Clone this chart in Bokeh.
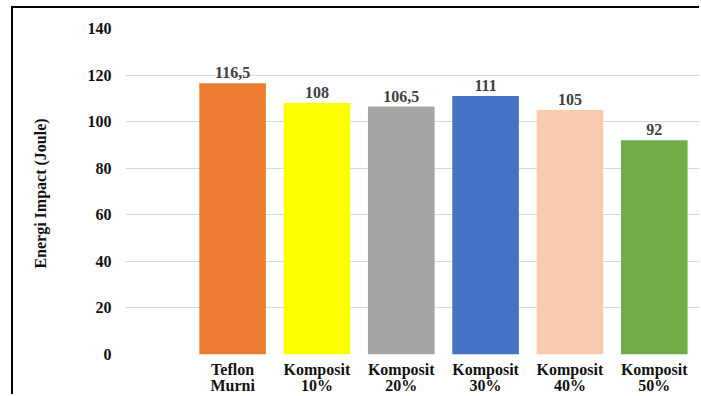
from bokeh.plotting import figure
from bokeh.models import ColumnDataSource, Range1d, FixedTicker, LabelSet
from bokeh.embed import file_html
from bokeh.resources import INLINE

categories = ["Teflon\nMurni", "Komposit\n10%", "Komposit\n20%", "Komposit\n30%", "Komposit\n40%", "Komposit\n50%"]
values = [116.5, 108, 106.5, 111, 105, 92]
colors = ["#ED7D31", "#FFFF00", "#A5A5A5", "#4472C4", "#F8CBAD", "#70AD47"]
y_ticks = [0, 20, 40, 60, 80, 100, 120, 140]

xs = list(range(len(categories)))
labels = [f"{v:g}".replace(".", ",") for v in values]
src = ColumnDataSource(dict(x=xs, top=values, color=colors, label=labels))

FONT = "serif"

p = figure(width=688, height=388, output_backend="svg", toolbar_location=None,
           x_range=Range1d(-1.27, 5.56), y_range=Range1d(0, 140),
           min_border_left=112, min_border_right=0, min_border_top=20, min_border_bottom=35,
           margin=(6, 0, 0, 11),
           styles={"border-left": "2px solid #000", "border-top": "2px solid #000"})

p.vbar(x="x", top="top", width=0.79, color="color", source=src, line_color=None)

lbl = LabelSet(x="x", y="top", text="label", source=src, text_align="center",
               text_baseline="bottom", y_offset=5, text_font=FONT,
               text_font_style="bold", text_font_size="16px", text_color="#404040")
p.add_layout(lbl)

p.outline_line_color = None
p.xgrid.grid_line_color = None
p.ygrid.grid_line_color = "#D9D9D9"
p.ygrid.grid_line_width = 1

p.xaxis.ticker = FixedTicker(ticks=xs)
p.xaxis.major_label_overrides = {i: c for i, c in enumerate(categories)}
p.xaxis.axis_line_color = None
p.xaxis.major_tick_line_color = None
p.xaxis.minor_tick_line_color = None
p.xaxis.major_label_standoff = 0
p.xaxis.major_label_text_font = FONT
p.xaxis.major_label_text_font_style = "bold"
p.xaxis.major_label_text_font_size = "16px"
p.xaxis.major_label_text_color = "#111111"
p.xaxis.major_label_text_line_height = 0.95

p.yaxis.ticker = FixedTicker(ticks=y_ticks)
p.yaxis.axis_line_color = None
p.yaxis.major_tick_line_color = None
p.yaxis.minor_tick_line_color = None
p.yaxis.major_tick_out = 0
p.yaxis.major_tick_in = 0
p.yaxis.major_label_standoff = 14
p.yaxis.major_label_text_font = FONT
p.yaxis.major_label_text_font_style = "bold"
p.yaxis.major_label_text_font_size = "16px"
p.yaxis.major_label_text_color = "#111111"
p.yaxis.axis_label = "Energi  Impact (Joule)"
p.yaxis.axis_label_text_font = FONT
p.yaxis.axis_label_text_font_style = "bold"
p.yaxis.axis_label_text_font_size = "16px"
p.yaxis.axis_label_text_color = "#111111"
p.yaxis.axis_label_standoff = 36

open("out.html", "w").write(file_html(p, INLINE))
